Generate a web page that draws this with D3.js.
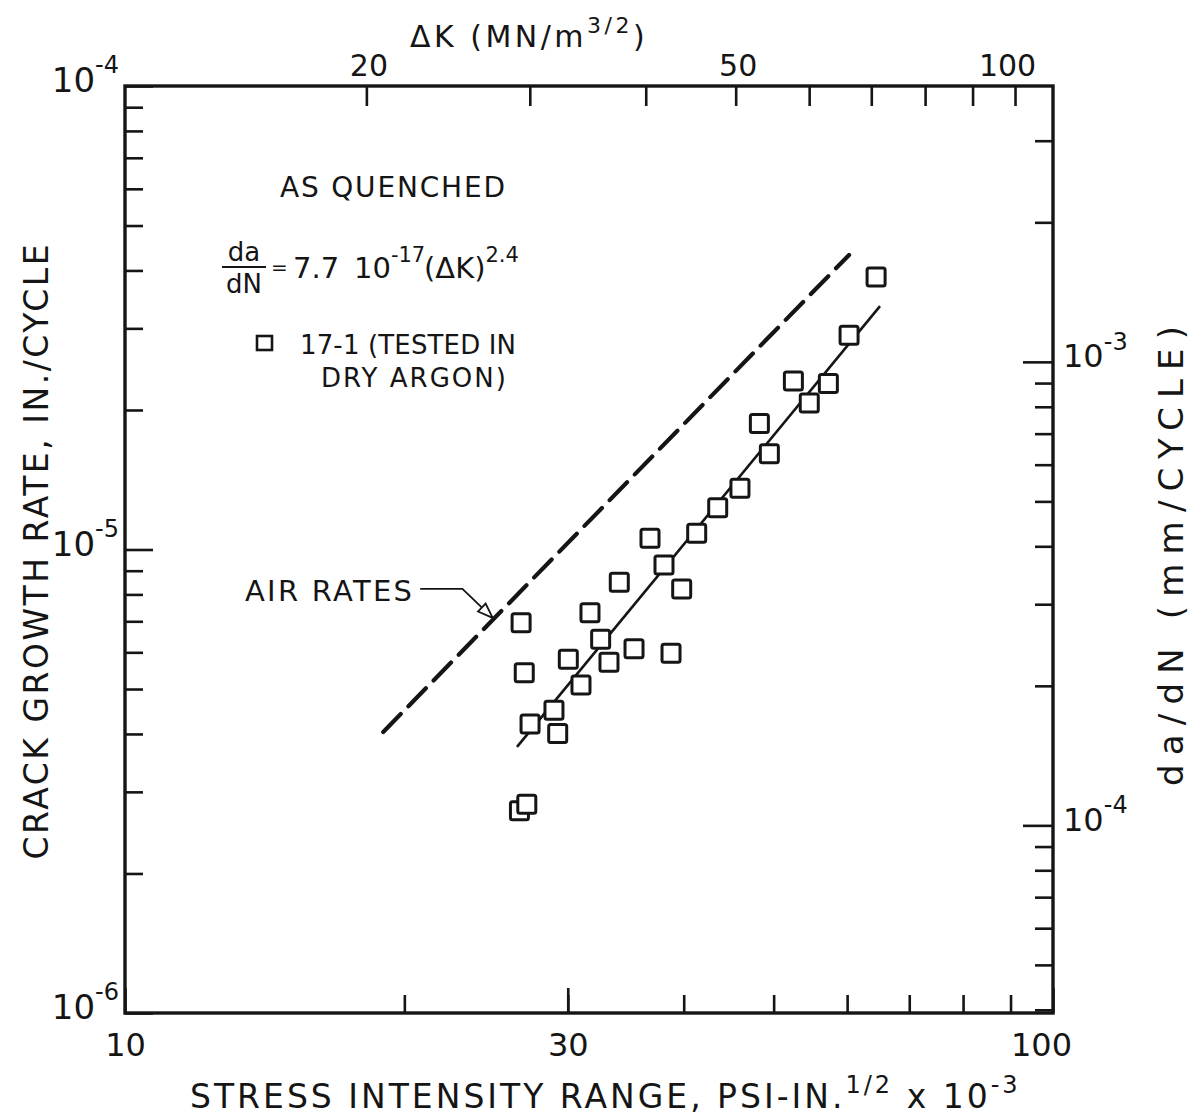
<!DOCTYPE html>
<html>
<head>
<meta charset="utf-8">
<script src="https://cdn.jsdelivr.net/npm/d3@7"></script>
<style>
    body { margin: 0; background: #fff; }
    svg text { font-family: "DejaVu Sans", sans-serif; fill: #151515; }
    .axis path { display: none; }
    .axis line { stroke: #151515; stroke-width: 2.6; }
</style>
</head>
<body>
<svg id="chart" width="1196" height="1115"></svg>
<script>
// specimen 17-1, dry argon: stress intensity range (ksi-in^1/2) and crack growth rate (in/cycle)
const stressRange = [26.72, 26.93, 27.32, 26.61, 27.10, 29.26, 28.99, 30.04, 31.00, 31.70,
    32.55, 33.23, 34.09, 35.36, 38.76, 39.80, 36.79, 38.09, 41.31, 43.52,
    45.99, 48.26, 49.47, 52.51, 54.62, 57.27, 60.29, 64.47];
const growthRate = [6.95e-6, 5.42e-6, 4.20e-6, 2.73e-6, 2.82e-6, 4.01e-6, 4.50e-6, 5.80e-6, 5.10e-6, 7.30e-6,
    6.40e-6, 5.71e-6, 8.50e-6, 6.11e-6, 5.97e-6, 8.22e-6, 1.057e-5, 9.26e-6, 1.084e-5, 1.23e-5,
    1.355e-5, 1.87e-5, 1.61e-5, 2.31e-5, 2.07e-5, 2.28e-5, 2.90e-5, 3.87e-5];

// fitted line (solid) and air rates (dashed), end points
const fitK = [26.45, 65.1];
const fitRate = [3.75e-6, 3.35e-5];
const airK = [18.98, 60.29];
const airRate = [4.04e-6, 4.32e-5];

// arrow from the AIR RATES note to the dashed line
const arrowK = [20.8, 23.1, 24.9];
const arrowRate = [8.22e-6, 8.22e-6, 7.12e-6];

// ticks
const bottomTicks = [20, 30, 40, 50, 60, 70, 80, 90];
const bottomLabels = [10, 30, 100];
const topTicks = [20, 30, 40, 50, 60, 70, 80, 90, 100];
const topLabels = [20, 50, 100];
const leftMinor = [2e-6, 3e-6, 4e-6, 5e-6, 6e-6, 7e-6, 8e-6, 9e-6,
    2e-5, 3e-5, 4e-5, 5e-5, 6e-5, 7e-5, 8e-5, 9e-5];
const leftLabels = [1e-6, 1e-5, 1e-4];
const rightMinor = [4e-5, 5e-5, 6e-5, 7e-5, 8e-5, 9e-5,
    2e-4, 3e-4, 4e-4, 5e-4, 6e-4, 7e-4, 8e-4, 9e-4, 2e-3, 3e-3];
const rightLabels = [1e-4, 1e-3];

const KSI_TO_MPA = 1.0988;   // ksi-in^1/2 -> MN/m^3/2
const IN_TO_MM = 39.37;      // conversion as drawn on the right scale

let svg = d3.select("#chart"),
    margin = {top: 86, right: 143, bottom: 102, left: 125},
    width = +svg.attr("width") - margin.left - margin.right,
    height = +svg.attr("height") - margin.top - margin.bottom,
    g = svg.append("g").attr("transform", "translate(" + margin.left + "," + margin.top + ")");

let x = d3.scaleLog().domain([10, 100]).range([0, width]);
let y = d3.scaleLog().domain([1e-6, 1e-4]).range([height, 0]);
let xTop = d3.scaleLog().domain([10 * KSI_TO_MPA, 100 * KSI_TO_MPA]).range([0, width]);
let yRight = d3.scaleLog().domain([1e-6 * IN_TO_MM, 1e-4 * IN_TO_MM]).range([height, 0]);

function powerText(sel, big, small) {
    sel.each(function (d) {
        let t = d3.select(this).text(null);
        let e = Math.round(Math.log10(d));
        t.append("tspan").style("font-size", big + "px").text("10");
        t.append("tspan").attr("dy", -big * 0.55).style("font-size", small + "px").text("-" + Math.abs(e));
    });
}

// bottom axis
g.append("g").attr("class", "axis")
    .attr("transform", "translate(0," + height + ")")
    .call(d3.axisBottom(x).tickValues(bottomTicks).tickSizeInner(-18).tickFormat(""));
let bLab = g.append("g").attr("class", "axis")
    .attr("transform", "translate(0," + height + ")")
    .call(d3.axisBottom(x).tickValues(bottomLabels).tickSizeInner(-25).tickSizeOuter(0).tickPadding(14)
        .tickFormat(d3.format("d")));
bLab.selectAll("text").style("font-size", "32px").attr("dy", "0.9em")
    .attr("dx", function (d) { return d === 100 ? -12 : 0; });

// top axis
let tAx = g.append("g").attr("class", "axis")
    .call(d3.axisTop(xTop).tickValues(topTicks).tickSizeInner(-20).tickPadding(10)
        .tickFormat(function (d) { return topLabels.indexOf(d) >= 0 ? d : ""; }));
tAx.selectAll("text").style("font-size", "30px")
    .attr("dx", function (d) { return d === 100 ? -8 : 2; });

// left axis
g.append("g").attr("class", "axis")
    .call(d3.axisLeft(y).tickValues(leftMinor).tickSizeInner(-18).tickFormat(""));
let lAx = g.append("g").attr("class", "axis")
    .call(d3.axisLeft(y).tickValues(leftLabels).tickSizeInner(-28).tickSizeOuter(0).tickPadding(6));
lAx.selectAll("text").attr("dy", "0.55em").call(powerText, 34, 24);

// right axis
g.append("g").attr("class", "axis")
    .attr("transform", "translate(" + width + ",0)")
    .call(d3.axisRight(yRight).tickValues(rightMinor).tickSizeInner(-18).tickFormat(""));
let rAx = g.append("g").attr("class", "axis")
    .attr("transform", "translate(" + width + ",0)")
    .call(d3.axisRight(yRight).tickValues(rightLabels).tickSizeInner(-30).tickSizeOuter(0).tickPadding(10));
rAx.selectAll("text").attr("dy", "0.5em").call(powerText, 32, 24);

// frame
g.append("rect")
    .attr("width", width).attr("height", height)
    .attr("fill", "none").attr("stroke", "#151515").attr("stroke-width", 3.4);

// lines
let line = d3.line()
    .x(function (d) { return x(d[0]); })
    .y(function (d) { return y(d[1]); });

g.append("path")
    .datum(d3.zip(airK, airRate))
    .attr("d", line)
    .attr("fill", "none").attr("stroke", "#151515").attr("stroke-width", 4.2)
    .attr("stroke-dasharray", "25,11").attr("stroke-linecap", "round");

g.append("path")
    .datum(d3.zip(fitK, fitRate))
    .attr("d", line)
    .attr("fill", "none").attr("stroke", "#151515").attr("stroke-width", 2.6);

// arrow to air rates line
let arrowPts = d3.zip(arrowK, arrowRate);
g.append("path")
    .datum(arrowPts)
    .attr("d", line)
    .attr("fill", "none").attr("stroke", "#151515").attr("stroke-width", 1.8);
let tip = arrowPts[2], prev = arrowPts[1];
let ang = Math.atan2(y(tip[1]) - y(prev[1]), x(tip[0]) - x(prev[0])) * 180 / Math.PI;
g.append("path")
    .attr("d", "M0,0 L-15,-5.5 L-15,5.5 Z")
    .attr("transform", "translate(" + x(tip[0]) + "," + y(tip[1]) + ") rotate(" + ang + ")")
    .attr("fill", "#fff").attr("stroke", "#151515").attr("stroke-width", 1.8);

// data squares
let s = 18;
g.selectAll(".pt")
    .data(d3.zip(stressRange, growthRate))
    .enter().append("rect")
    .attr("class", "pt")
    .attr("x", function (d) { return x(d[0]) - s / 2; })
    .attr("y", function (d) { return y(d[1]) - s / 2; })
    .attr("width", s).attr("height", s).attr("rx", 2)
    .attr("fill", "#fff").attr("stroke", "#151515").attr("stroke-width", 3);

// notes
svg.append("text").attr("x", 280).attr("y", 197).style("font-size", "28px")
    .attr("textLength", 225).attr("lengthAdjust", "spacing").text("AS QUENCHED");

svg.append("text").attr("x", 244).attr("y", 261).attr("text-anchor", "middle").style("font-size", "26px").text("da");
svg.append("line").attr("x1", 222).attr("x2", 266).attr("y1", 267).attr("y2", 267)
    .attr("stroke", "#151515").attr("stroke-width", 2.2);
svg.append("text").attr("x", 244).attr("y", 293).attr("text-anchor", "middle").style("font-size", "26px").text("dN");
let eqT = svg.append("text").attr("y", 278).style("font-size", "29px");
eqT.append("tspan").attr("x", 271).style("font-size", "20px").attr("dy", -4).text("=");
eqT.append("tspan").attr("x", 293).attr("dy", 4).text("7.7");
eqT.append("tspan").attr("x", 354).text("10");
eqT.append("tspan").attr("dy", -16).style("font-size", "21px").text("-17");
eqT.append("tspan").attr("x", 424).attr("dy", 16).text("(\u0394K)");
eqT.append("tspan").attr("dy", -16).style("font-size", "21px").text("2.4");

svg.append("rect").attr("x", 257).attr("y", 336).attr("width", 15).attr("height", 14)
    .attr("fill", "#fff").attr("stroke", "#151515").attr("stroke-width", 2.6);
svg.append("text").attr("x", 300).attr("y", 354).style("font-size", "26px")
    .attr("textLength", 216).attr("lengthAdjust", "spacing").text("17-1 (TESTED IN");
svg.append("text").attr("x", 321).attr("y", 387).style("font-size", "26px")
    .attr("textLength", 185).attr("lengthAdjust", "spacing").text("DRY ARGON)");

svg.append("text").attr("x", 245).attr("y", margin.top + y(arrowRate[0]) + 12)
    .style("font-size", "29px").attr("textLength", 167).attr("lengthAdjust", "spacing").text("AIR RATES");

// axis titles
let topTitle = svg.append("text").attr("x", 410).attr("y", 47).style("font-size", "30px")
    .style("letter-spacing", "3.5px");
topTitle.append("tspan").text("\u0394K (MN/m");
topTitle.append("tspan").attr("dy", -14).style("font-size", "22px").text("3/2");
topTitle.append("tspan").attr("dy", 14).text(")");

let botTitle = svg.append("text").attr("x", 190).attr("y", 1108).style("font-size", "33px")
    .style("letter-spacing", "3px");
botTitle.append("tspan").text("STRESS INTENSITY RANGE,  PSI-IN.");
botTitle.append("tspan").attr("dy", -15).style("font-size", "24px").text("1/2");
botTitle.append("tspan").attr("dy", 15).text(" x 10");
botTitle.append("tspan").attr("dy", -15).style("font-size", "24px").text("-3");

svg.append("text")
    .attr("transform", "translate(48,552) rotate(-90)")
    .attr("text-anchor", "middle").style("font-size", "33px")
    .attr("textLength", 615).attr("lengthAdjust", "spacing")
    .text("CRACK GROWTH RATE, IN./CYCLE");

svg.append("text")
    .attr("transform", "translate(1183,556) rotate(-90)")
    .attr("text-anchor", "middle").style("font-size", "34px")
    .attr("textLength", 460).attr("lengthAdjust", "spacing")
    .text("da/dN  (mm/CYCLE)");
</script>
</body>
</html>
